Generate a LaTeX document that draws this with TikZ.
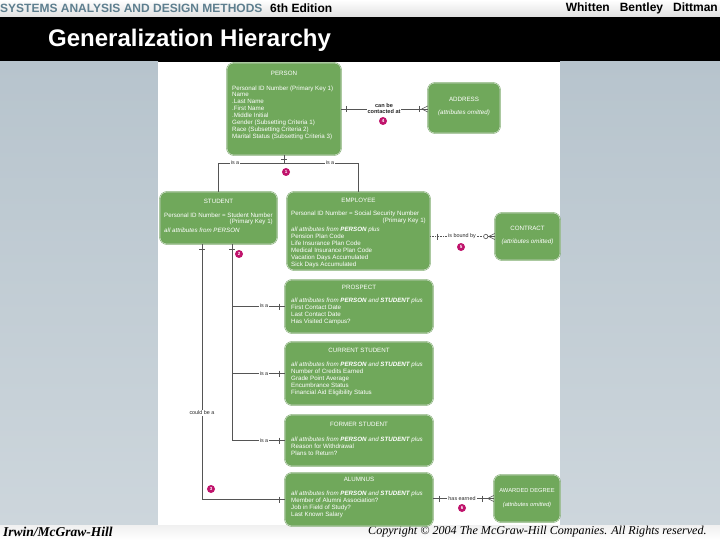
\documentclass[tikz,border=0pt]{standalone}
\usepackage{fontspec}
\setmainfont{Liberation Sans}
\newfontfamily\hdrfont{Liberation Sans}
\newfontfamily\serifit{Liberation Serif}
\usetikzlibrary{calc}
\definecolor{boxgreen}{HTML}{70A85B}
\definecolor{badge}{HTML}{C0136C}
\definecolor{hdrblue}{HTML}{5E7F8F}
\definecolor{panelA}{HTML}{B7C4CD}
\definecolor{panelB}{HTML}{CDD6DC}
\definecolor{linegray}{HTML}{555555}
\begin{document}
\begin{tikzpicture}[x=1pt,y=-1pt,
  ent/.style={rounded corners=7pt, fill=boxgreen, draw=boxgreen!92!black, double=boxgreen!30!white, line width=0.45pt, double distance=0.55pt, inner sep=0},
  ttl/.style={text=white, font=\fontsize{6.2}{7}\selectfont, inner sep=0},
  bod/.style={text=white, font=\fontsize{6.2}{7}\selectfont, align=left, anchor=north west, inner sep=0},
  ln/.style={draw=linegray, line width=0.6pt},
  lbl/.style={fill=white, text=black!85, font=\fontsize{5.4}{6}\selectfont, inner sep=1pt, align=center},
  num/.style={circle, fill=badge, text=white, font=\bfseries\fontsize{4.5}{5}\selectfont, inner sep=0, minimum size=8pt}]
\useasboundingbox (0,0) rectangle (720,540);
% background
\fill[white] (0,0) rectangle (720,540);
\shade[top color=white, bottom color=black!12] (0,0) rectangle (720,17);
\fill[black] (0,17) rectangle (720,62);
\shade[top color=panelA, bottom color=panelB] (0,62) rectangle (158,525);
\shade[top color=panelA, bottom color=panelB] (560,62) rectangle (720,525);
\fill[white] (158,62) rectangle (560,525);
\shade[top color=black!6, bottom color=white] (0,525) rectangle (720,540);
% header
\node[anchor=west, inner sep=0, text=hdrblue, font=\hdrfont\bfseries\fontsize{12}{12}\selectfont] (hdrA) at (0,8) {SYSTEMS ANALYSIS AND DESIGN METHODS};
\node[anchor=west, inner sep=0, font=\hdrfont\bfseries\fontsize{12}{12}\selectfont] (hdrB) at (270,8) {6th Edition};
\node[anchor=east, inner sep=0, font=\hdrfont\bfseries\fontsize{12}{12}\selectfont] (hdrC) at (718,8) {Whitten\ \ \ Bentley\ \ \ Dittman};
\node[anchor=west, inner sep=0, text=white, font=\bfseries\fontsize{24}{24}\selectfont] (title) at (48,40) {Generalization Hierarchy};
% footer
\node[anchor=west, inner sep=0, font=\serifit\itshape\bfseries\fontsize{13.5}{13.5}\selectfont] (pub) at (3,532) {Irwin/McGraw-Hill};
\node[anchor=west, inner sep=0, font=\serifit\itshape\fontsize{12.1}{12.1}\selectfont] (copy) at (368,532) {Copyright \copyright{} 2004 The McGraw-Hill Companies. All Rights reserved.};

% entities
\node[ent, minimum width=114pt, minimum height=92pt] (person) at (284,109) {};
\node[ttl] (personT) at (284,73) {PERSON};
\node[bod, font=\fontsize{6.2}{6.9}\selectfont] (personB) at (232,85.4) {Personal ID Number (Primary Key 1)\\Name\\.Last Name\\.First Name\\.Middle Initial\\Gender (Subsetting Criteria 1)\\Race (Subsetting Criteria 2)\\Marital Status (Subsetting Criteria 3)};

\node[ent, minimum width=72pt, minimum height=50pt] (address) at (464,108) {};
\node[ttl] (addressT) at (464,99) {ADDRESS};
\node[ttl, font=\itshape\fontsize{6.2}{7}\selectfont] (addressB) at (464,113) {(attributes omitted)};

\node[ent, minimum width=117pt, minimum height=52pt] (student) at (218.5,218) {};
\node[ttl] (studentT) at (218.5,201) {STUDENT};
\node[bod] (studentB) at (164,212.4) {Personal ID Number = Student Number};
\node[ttl, anchor=east] (studentK) at (273,222) {(Primary Key 1)};
\node[bod, font=\itshape\fontsize{6.2}{7}\selectfont] (studentC) at (164,227.4) {all attributes from PERSON};

\node[ent, minimum width=143pt, minimum height=78pt] (employee) at (358.5,231) {};
\node[ttl] (employeeT) at (358.5,200) {EMPLOYEE};
\node[bod] (employeeB) at (291,210.4) {Personal ID Number = Social Security Number};
\node[ttl, anchor=east] (employeeK) at (426,221) {(Primary Key 1)};
\node[bod] (employeeC) at (291,226.4) {\itshape all attributes from \bfseries PERSON \mdseries plus\\Pension Plan Code\\Life Insurance Plan Code\\Medical Insurance Plan Code\\Vacation Days Accumulated\\Sick Days Accumulated};

\node[ent, minimum width=65pt, minimum height=47pt] (contract) at (527.5,236.5) {};
\node[ttl] (contractT) at (527.5,228) {CONTRACT};
\node[ttl, font=\itshape\fontsize{6.2}{7}\selectfont] (contractB) at (527.5,242) {(attributes omitted)};

\node[ent, minimum width=148pt, minimum height=53pt] (prospect) at (359,306.5) {};
\node[ttl] (prospectT) at (359,287) {PROSPECT};
\node[bod] (prospectB) at (291,297.4) {\itshape all attributes from \bfseries PERSON \mdseries and \bfseries STUDENT \mdseries plus\\First Contact Date\\Last Contact Date\\Has Visited Campus?};

\node[ent, minimum width=148pt, minimum height=63pt] (current) at (359,373.5) {};
\node[ttl] (currentT) at (359,350) {CURRENT STUDENT};
\node[bod] (currentB) at (291,361.4) {\itshape all attributes from \bfseries PERSON \mdseries and \bfseries STUDENT \mdseries plus\\Number of Credits Earned\\Grade Point Average\\Encumbrance Status\\Financial Aid Eligibility Status};

\node[ent, minimum width=148pt, minimum height=51pt] (former) at (359,440.5) {};
\node[ttl] (formerT) at (359,424) {FORMER STUDENT};
\node[bod] (formerB) at (291,436.4) {\itshape all attributes from \bfseries PERSON \mdseries and \bfseries STUDENT \mdseries plus\\Reason for Withdrawal\\Plans to Return?};

\node[ent, minimum width=148pt, minimum height=53pt] (alumnus) at (359,499.5) {};
\node[ttl] (alumnusT) at (359,479) {ALUMNUS};
\node[bod] (alumnusB) at (291,490.4) {\itshape all attributes from \bfseries PERSON \mdseries and \bfseries STUDENT \mdseries plus\\Member of Alumni Association?\\Job in Field of Study?\\Last Known Salary};

\node[ent, minimum width=66pt, minimum height=47pt] (awarded) at (527,498.5) {};
\node[ttl, font=\fontsize{5.8}{6.9}\selectfont] (awardedT) at (527,490) {AWARDED DEGREE};
\node[ttl, font=\itshape\fontsize{5.8}{6.9}\selectfont] (awardedB) at (527,505) {(attributes omitted)};

% PERSON - ADDRESS
\draw[ln] (person.east) -- (person.east -| address.west);
\draw[ln] ($(person.east)+(5,-3)$) -- ++(0,6);
\draw[ln] ($(person.east -| address.west)+(-8,-3)$) -- ++(0,6);
\draw[ln] ($(person.east -| address.west)+(-6,0)$) -- ($(person.east -| address.west)+(0,-3)$);
\draw[ln] ($(person.east -| address.west)+(-6,0)$) -- ($(person.east -| address.west)+(0,3)$);
\node[lbl, font=\bfseries\fontsize{5.6}{6.2}\selectfont] (lblA) at (384,108.5) {can be\\contacted at};
\node[num] (n4) at (383,121) {4};

% PERSON - STUDENT / EMPLOYEE
\coordinate (j1) at ($(person.south)+(0,8)$);
\draw[ln] (person.south) -- (j1);
\draw[ln] ($(person.south)+(-3,4)$) -- ++(6,0);
\draw[ln] (student.north) |- (j1) -| (employee.north);
\node[lbl] (isa1) at (235,163) {is a};
\node[lbl] (isa2) at (330,163) {is a};
\node[num] (n1) at (286,172) {1};

% STUDENT - subtypes
\coordinate (s1) at ($(student.south)+(-16.5,0)$);
\coordinate (s2) at ($(student.south)+(13.5,0)$);
\draw[ln] (s2) |- (former.west);
\draw[ln] (prospect.west) -- (prospect.west -| s2);
\draw[ln] (current.west) -- (current.west -| s2);
\draw[ln] (s1) |- (alumnus.west);
\draw[ln] ($(s1)+(-3,5)$) -- ++(6,0);
\draw[ln] ($(s2)+(-3,5)$) -- ++(6,0);
\foreach \e in {prospect,current,former,alumnus}{
  \draw[ln] ($(\e.west)+(-5,-3)$) -- ++(0,6);
}
\node[lbl] (isa3) at (264,305.5) {is a};
\node[lbl] (isa4) at (264,373.5) {is a};
\node[lbl] (isa5) at (264,440.5) {is a};
\node[lbl] (could) at (202,413) {could be a};
\node[num] (n2) at (239,254) {2};
\node[num] (n3) at (211,489) {3};

% EMPLOYEE - CONTRACT
\draw[ln, densely dotted] (contract.west -| employee.east) -- ($(contract.west)+(-11,0)$);
\draw[ln] ($(contract.west)+(-7,0)$) -- (contract.west);
\draw[ln] ($(contract.west -| employee.east)+(7,-3)$) -- ++(0,6);
\draw[ln, fill=white] ($(contract.west)+(-9,0)$) circle (2.2pt);
\draw[ln] ($(contract.west)+(-6,0)$) -- ($(contract.west)+(0,-3)$);
\draw[ln] ($(contract.west)+(-6,0)$) -- ($(contract.west)+(0,3)$);
\node[lbl] (bound) at (462,236.5) {is bound by};
\node[num] (n5) at (461,247) {5};

% ALUMNUS - AWARDED DEGREE
\draw[ln] (awarded.west -| alumnus.east) -- (awarded.west);
\draw[ln] ($(awarded.west -| alumnus.east)+(6,-3)$) -- ++(0,6);
\draw[ln] ($(awarded.west)+(-11,-3)$) -- ++(0,6);
\draw[ln] ($(awarded.west)+(-6,0)$) -- ($(awarded.west)+(0,-3)$);
\draw[ln] ($(awarded.west)+(-6,0)$) -- ($(awarded.west)+(0,3)$);
\node[lbl] (earned) at (462,498.5) {has earned};
\node[num] (n6) at (462,508) {6};
\end{tikzpicture}
\end{document}
